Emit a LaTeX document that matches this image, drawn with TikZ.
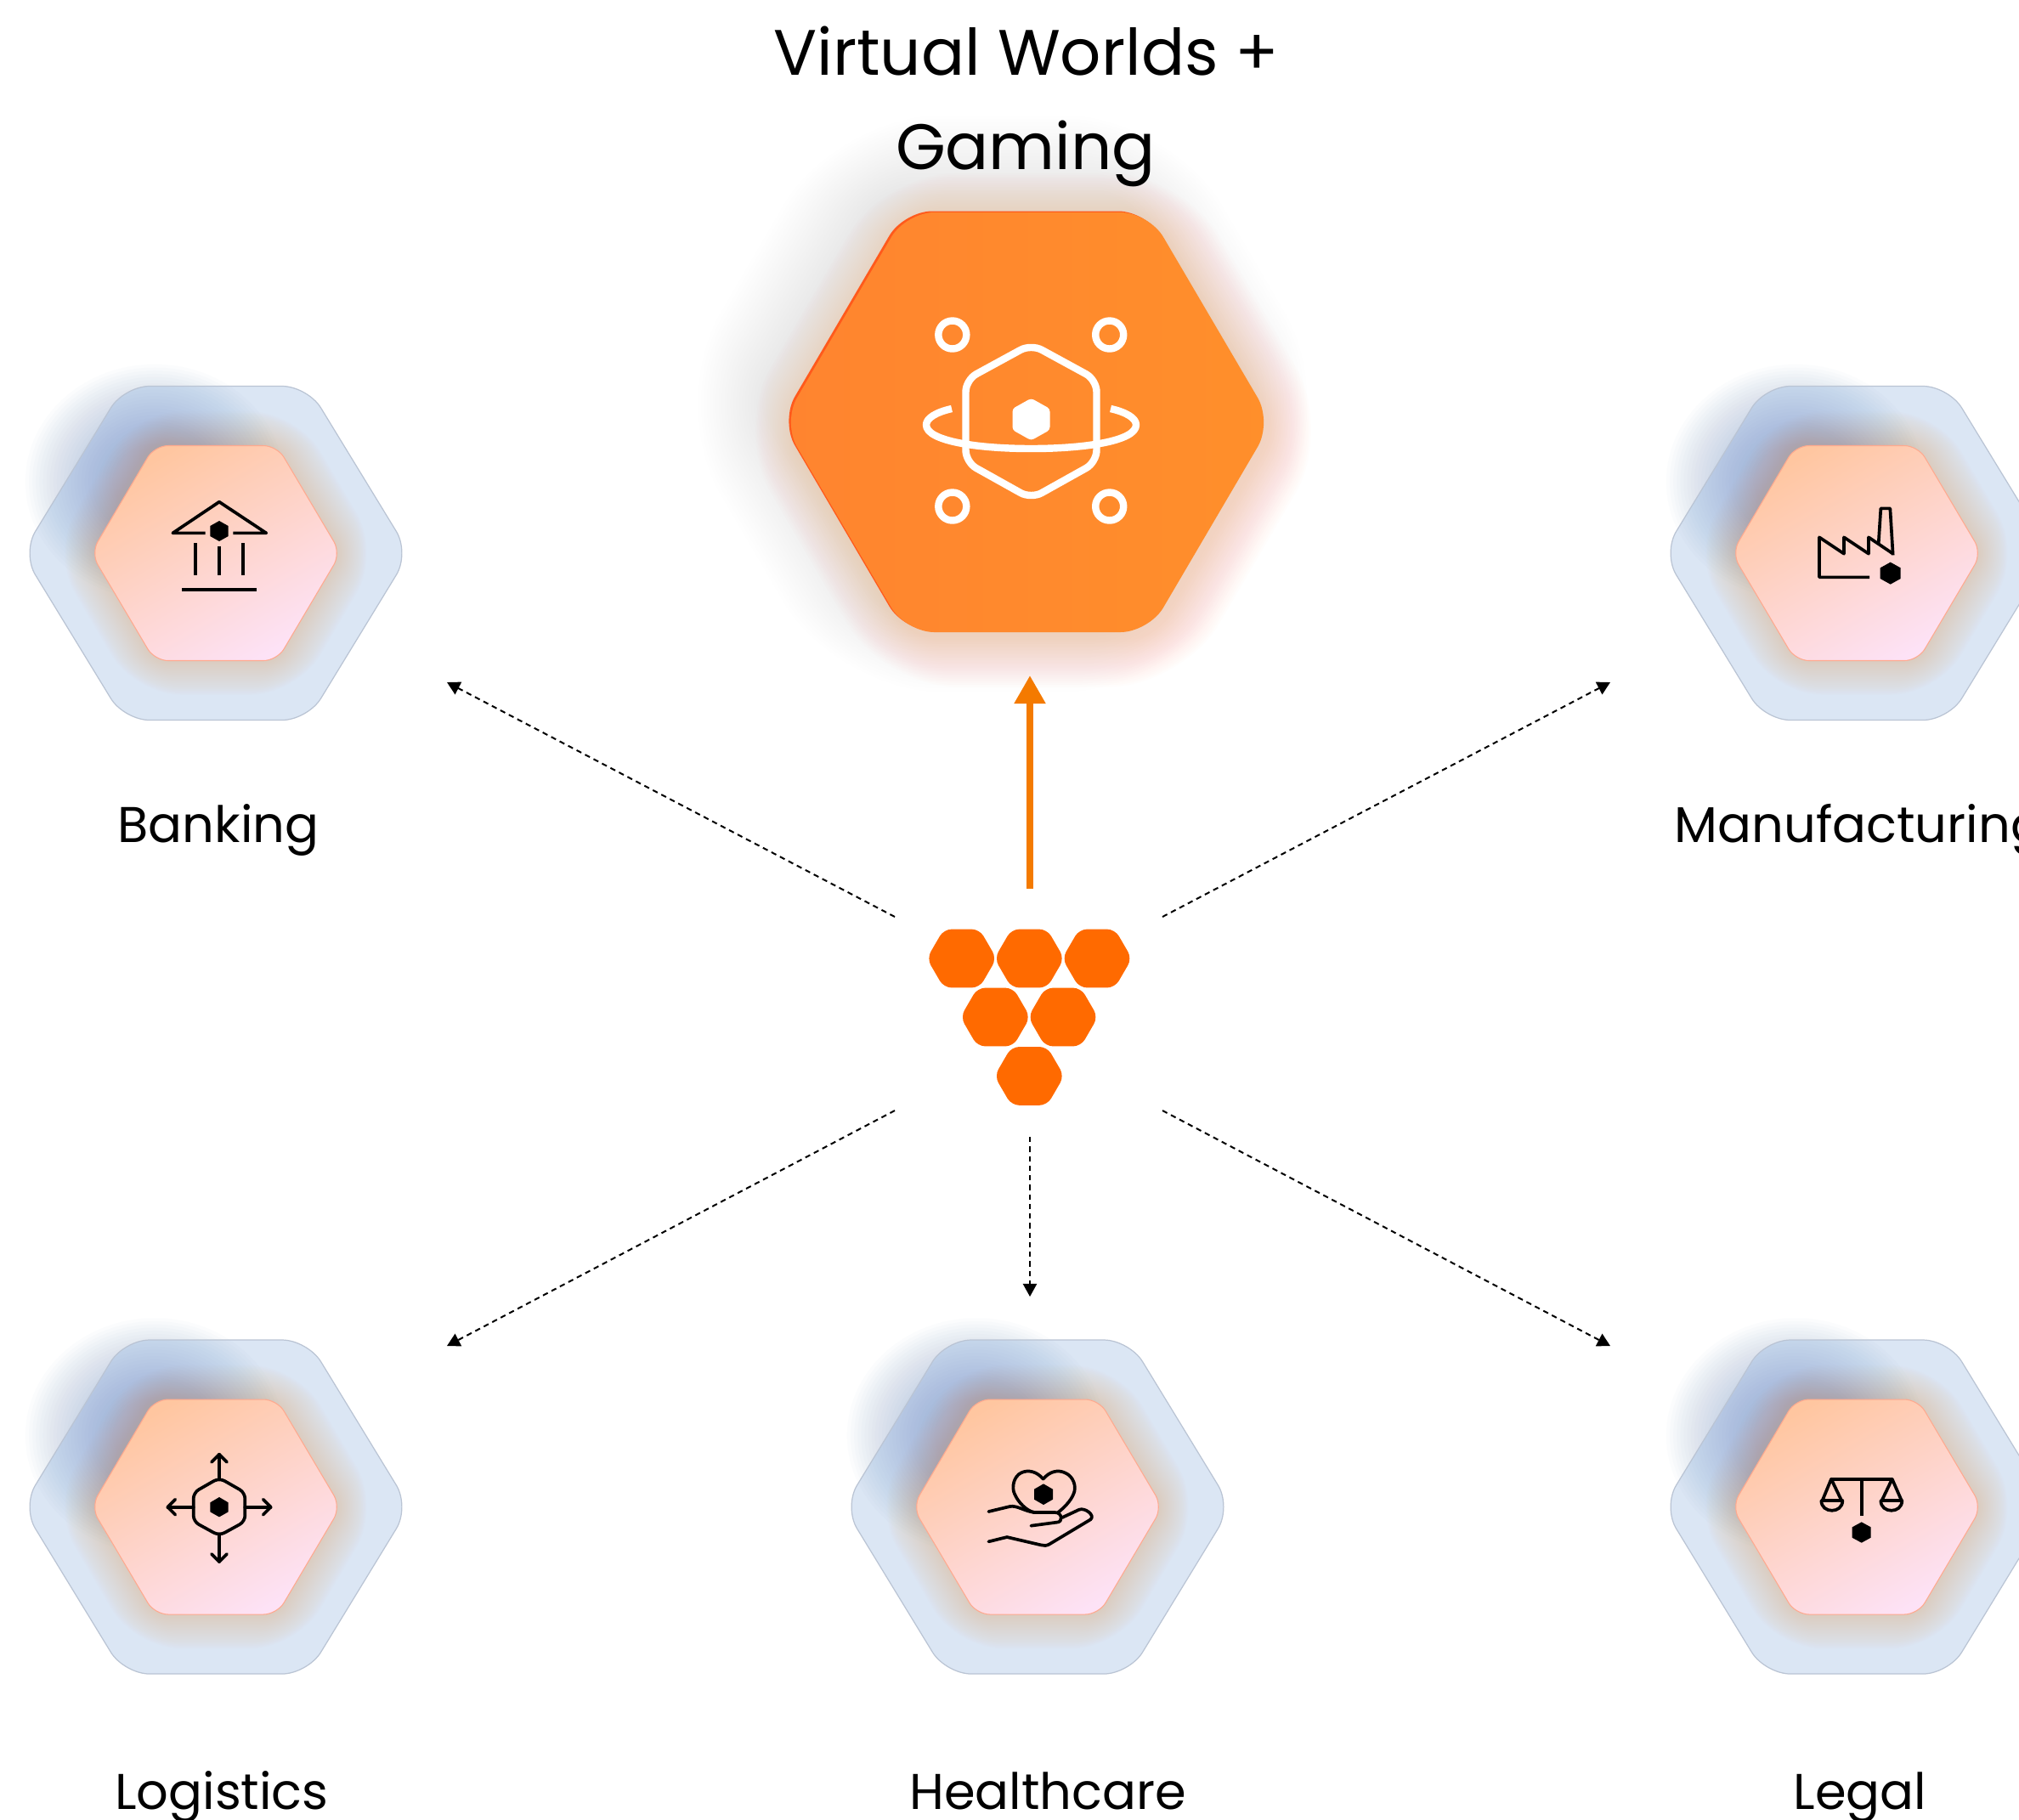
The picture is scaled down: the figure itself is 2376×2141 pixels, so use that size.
\documentclass[tikz,border=0pt]{standalone}
\usepackage{fontspec}
\setmainfont{Poppins}
\usetikzlibrary{arrows.meta}

\definecolor{hubOrange}{HTML}{FF6A00}
\definecolor{liftOrange}{HTML}{F47A00}
\definecolor{glassBlue}{HTML}{DBE6F4}
\definecolor{glassEdge}{HTML}{BAC4D4}
\definecolor{blobBlue}{HTML}{7F9CCC}
\definecolor{haloTan}{HTML}{EBA468}
\definecolor{haloGrey}{HTML}{8B96C4}
\definecolor{haloOrange}{HTML}{FF9050}
\definecolor{TileTop}{HTML}{FFC6A0}
\definecolor{TileMid}{HTML}{FFD3CC}
\definecolor{TileEnd}{HTML}{FDE2F6}
\definecolor{TileEdge}{HTML}{FFA98F}
\definecolor{BigLeft}{HTML}{FF842F}
\definecolor{BigRight}{HTML}{FF8F2B}
\definecolor{BigRim}{HTML}{FF5A1C}

% pixel sized hexagon: cx, cy, half width, half top, half height
\newcommand{\hexat}[5]{({#1-#3},#2) -- ({#1-#4},{#2-#5}) -- ({#1+#4},{#2-#5}) -- ({#1+#3},#2) -- ({#1+#4},{#2+#5}) -- ({#1-#4},{#2+#5}) -- cycle}
% soft edge made from nested hexagons: cx, cy, hw, ht, hh, radius, spread, colour, opacity
\newcommand{\softhex}[9]{%
  \foreach \k in {1,...,24} {
    \pgfmathsetmacro{\s}{#7*(1-\k/24)}
    \pgfmathsetmacro{\rr}{(#6+\s)*0.2845}
    \pgfmathsetmacro{\w}{#3+1.155*\s}
    \pgfmathsetmacro{\t}{#4+0.58*\s}
    \pgfmathsetmacro{\h}{#5+\s}
    \fill[#8, fill opacity=#9, rounded corners=\rr pt] \hexat{#1}{#2}{\w}{\t}{\h};
  }}
\newcommand{\softblob}[3]{%
  \foreach \k in {1,...,26} {
    \pgfmathsetmacro{\s}{#3*(1-\k/38)}
    \fill[blobBlue, fill opacity=.028] (#1,#2) circle[x radius=\s*1.1,y radius=\s];
  }}
% the glass card with its pink tile
\newcommand{\sectorhex}[2]{%
  \fill[glassBlue, rounded corners=8.5pt] \hexat{#1}{#2}{228}{108}{196.5};
  \softblob{#1-72}{#2-84}{142}
  \draw[glassEdge, line width=.35pt, rounded corners=8.5pt] \hexat{#1}{#2}{228}{108}{196.5};
  \softhex{#1}{#2}{147}{72}{126.5}{14}{42}{haloTan}{.015}
  \shade[rounded corners=4.5pt, top color=TileTop, middle color=TileMid, bottom color=TileEnd, shading angle=30, draw=TileEdge, line width=.3pt] \hexat{#1}{#2}{147}{72}{126.5};}

\tikzset{
  dotlink/.style={line width=.57pt, dash pattern=on 1.8pt off 1.4pt, -{Triangle[width=4.6pt,length=4.3pt]}},
  liftlink/.style={liftOrange, line width=2.2pt, -{Triangle[width=10pt,length=9.4pt]}},
  sectorlabel/.style={font=\fontsize{16.8}{20}\selectfont, anchor=base, inner sep=0pt},
  titlelabel/.style={font=\fontsize{21.5}{26}\selectfont, anchor=base, inner sep=0pt},
  glyph/.style={line width=1.05pt, line join=round},
  glyphround/.style={line width=1.05pt, line cap=round, line join=round},
  planet/.style={white, line width=2.4pt, line join=round}
}

\begin{document}
\begin{tikzpicture}[x=0.01cm,y=-0.01cm]
\useasboundingbox (0,0) rectangle (2376,2141);
\clip (0,0) rectangle (2376,2141);
\fill[white] (0,0) rectangle (2376,2141);

% big tile
\softhex{1180}{475}{288}{143}{247}{30}{96}{haloGrey}{.0085}
\softhex{1216}{506}{288}{143}{247}{30}{58}{haloOrange}{.012}
\fill[BigRim, rounded corners=9.5pt] \hexat{1206.5}{495.5}{288}{143}{247};
\shade[rounded corners=9.5pt, left color=BigLeft, right color=BigRight] \hexat{1209}{497}{288}{143}{247};

% small tiles
\sectorhex{254}{651}
\sectorhex{2185}{651}
\sectorhex{254}{1773.5}
\sectorhex{1221}{1773.5}
\sectorhex{2185}{1773.5}

% planet icon
\draw[planet] (1120.8,394) circle[radius=16.5];
\draw[planet] (1305.7,394) circle[radius=16.5];
\draw[planet] (1120.8,596) circle[radius=16.5];
\draw[planet] (1305.7,596) circle[radius=16.5];
\draw[planet, rounded corners=4pt] (1136.5,447) -- (1213.5,405) -- (1290.5,447) -- (1290.5,544) -- (1213.5,587) -- (1136.5,544) -- cycle;
\fill[white, rounded corners=1pt] (1191.5,481) -- (1213.5,468.7) -- (1235.5,481) -- (1235.5,506) -- (1213.5,518.3) -- (1191.5,506) -- cycle;
\draw[planet] (1120,481) .. controls (1102,485) and (1090,492) .. (1090,500) .. controls (1090,519) and (1150,528) .. (1213.5,528) .. controls (1277,528) and (1337,519) .. (1337,500) .. controls (1337,492) and (1325,485) .. (1307,481);

% bank
\begin{scope}[shift={(0,420)},scale=1/3]
\draw[glyph] (725,622) -- (610,622) -- (774,512) -- (940,622) -- (823,622);
\draw[glyph] (689,657) -- (689,772);
\draw[glyph] (774,668) -- (774,772);
\draw[glyph] (859,657) -- (859,772);
\draw[glyph] (642,822) -- (906,822);
\fill (742,597) -- (774,579) -- (806,597) -- (806,633) -- (774,651) -- (742,633) -- cycle;
\end{scope}

% factory
\begin{scope}[shift={(2080,540)},scale=1/3]
\draw[glyph] (360,418) -- (183,418) -- (183,277) -- (270,335) -- (270,277) -- (357,335) -- (357,277) -- (443,335);
\draw[glyph] (392,300) -- (400,175) -- (433,175) -- (443,340);
\fill (398,385) -- (434,365) -- (470,385) -- (470,423) -- (434,443) -- (398,423) -- cycle;
\end{scope}

% routes
\begin{scope}[shift={(160,1680)},scale=1/3]
\draw[glyphround, rounded corners=2pt] (294,178) -- (385,230) -- (385,332) -- (294,382) -- (203,332) -- (203,230) -- cycle;
\fill (262,265) -- (294,246) -- (326,265) -- (326,298) -- (294,316) -- (262,298) -- cycle;
\draw[glyphround] (294,178) -- (294,95);
\draw[glyphround] (267,122) -- (294,95) -- (321,122);
\draw[glyphround] (294,382) -- (294,474);
\draw[glyphround] (267,447) -- (294,474) -- (321,447);
\draw[glyphround] (203,281) -- (112,281);
\draw[glyphround] (139,254) -- (112,281) -- (139,308);
\draw[glyphround] (385,281) -- (476,281);
\draw[glyphround] (449,254) -- (476,281) -- (449,308);
\end{scope}

% heart in hand
\begin{scope}[shift={(1130,1700)},scale=1/3]
\draw[glyphround] (293,122) .. controls (270,95) and (240,88) .. (215,100) .. controls (190,112) and (180,150) .. (192,175) .. controls (205,205) and (235,235) .. (262,240) -- (335,240) .. controls (360,240) and (365,275) .. (340,275) -- (250,287);
\draw[glyphround] (293,122) .. controls (315,95) and (345,88) .. (370,100) .. controls (400,112) and (412,150) .. (400,175) .. controls (390,200) and (365,225) .. (345,240);
\draw[glyphround] (100,237) -- (175,219) .. controls (200,214) and (225,235) .. (262,240);
\draw[glyphround] (360,258) -- (420,230) .. controls (440,222) and (478,250) .. (460,265) -- (315,352) .. controls (305,358) and (295,358) .. (285,355) -- (165,327) -- (100,343);
\fill (261,158) -- (294,139) -- (327,158) -- (327,194) -- (294,213) -- (261,194) -- cycle;
\end{scope}

% scales
\begin{scope}[shift={(2110,1710)},scale=1/3]
\draw[glyph] (135,92) -- (350,92);
\draw[glyph] (242,92) -- (242,222);
\draw[glyphround] (105,165) -- (135,92) -- (170,165);
\draw[glyphround] (315,165) -- (350,92) -- (382,165);
\draw[glyphround] (100,168) -- (175,168) .. controls (175,215) and (100,215) .. (100,168);
\draw[glyphround] (310,168) -- (385,168) .. controls (385,215) and (310,215) .. (310,168);
\fill (209,262) -- (242,244) -- (275,262) -- (275,299) -- (242,317) -- (209,299) -- cycle;
\end{scope}

% hub logo
\foreach \cx/\cy in {1131.7/1128,1211.3/1128,1291/1128,1171.3/1197,1251/1197,1211.3/1266.4}
  \fill[hubOrange, rounded corners=2.6pt] \hexat{\cx}{\cy}{41}{21}{34.4};

% links
\coordinate (hubNW) at (1053,1079);
\coordinate (hubNE) at (1368,1079);
\coordinate (hubSW) at (1053,1307);
\coordinate (hubSE) at (1368,1307);
\coordinate (hubS) at (1212,1338);
\coordinate (hubN) at (1212,1046);
\coordinate (toBanking) at (526,803);
\coordinate (toMaking) at (1895,803);
\coordinate (toLogistics) at (526,1584);
\coordinate (toLegal) at (1895,1584);
\coordinate (toHealth) at (1212,1526);
\coordinate (toWorlds) at (1212,795);
\draw[dotlink] (hubNW) -- (toBanking);
\draw[dotlink] (hubNE) -- (toMaking);
\draw[dotlink] (hubSW) -- (toLogistics);
\draw[dotlink] (hubSE) -- (toLegal);
\draw[dotlink] (hubS) -- (toHealth);
\draw[liftlink] (hubN) -- (toWorlds);

% labels
\node[titlelabel] (worldsA) at (1208,88) {Virtual Worlds +};
\node[titlelabel] (worldsB) at (1207,199) {Gaming};
\node[sectorlabel] (banking) at (257,991) {Banking};
\node[sectorlabel, anchor=base west] (making) at (1970,991) {Manufacturing};
\node[sectorlabel] (logistics) at (261,2129) {Logistics};
\node[sectorlabel] (health) at (1233,2129) {Healthcare};
\node[sectorlabel] (legal) at (2189,2129) {Legal};
\end{tikzpicture}
\end{document}
